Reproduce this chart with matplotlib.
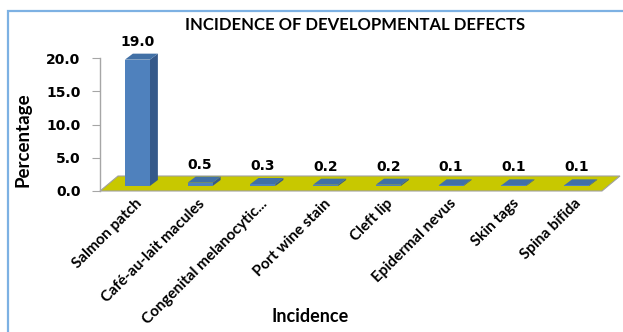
"""Incidence of developmental defects - Excel-style 3D column chart."""
import matplotlib
matplotlib.use('Agg')
import matplotlib.pyplot as plt
from matplotlib.patches import Polygon, Rectangle

categories = ['Salmon patch', 'Café-au-lait macules', 'Congenital melanocytic...',
              'Port wine stain', 'Cleft lip', 'Epidermal nevus', 'Skin tags',
              'Spina bifida']
values = [19.0, 0.5, 0.3, 0.2, 0.2, 0.1, 0.1, 0.1]
yticks = [0, 5, 10, 15, 20]

plt.rcParams['font.family'] = ['Lato', 'DejaVu Sans']
plt.rcParams['font.weight'] = 'bold'
NUM_FONT = ['DejaVu Sans']

W, H = 623, 332
fig = plt.figure(figsize=(W / 100, H / 100), dpi=100)

# outer frame (only left + top visible in the crop)
fig.patches.append(Rectangle((8 / W, -0.1), 1.2, (H - 11) / H + 0.1,
                             transform=fig.transFigure, fill=False,
                             edgecolor='#7DB1E3', lw=1.6))

# axes = front plane of the plot area
x0, x1, yb, yt = 100, 602, 191, 58
ax = fig.add_axes([x0 / W, (H - yb) / H, (x1 - x0) / W, (yb - yt) / H])
n = len(categories)
ax.set_xlim(0, n)
ax.set_ylim(0, 20)
ax.patch.set_visible(False)
for s in ['top', 'right', 'bottom']:
    ax.spines[s].set_visible(False)
ax.spines['left'].set_color('#A6A6A6')
ax.spines['left'].set_linewidth(1.0)

px_x = (x1 - x0) / n
px_y = (yb - yt) / 20.0
# floor depth and bar depth (pixels -> data)
fdx, fdy = 18 / px_x, 15 / px_y
bdx, bdy = 8 / px_x, 6 / px_y
bw = 25 / px_x
ox, oy = fdx / 3, fdy / 3   # bars sit a third of the way into the floor

floor = Polygon([(0, 0), (n, 0), (n + fdx, fdy), (fdx, fdy)], closed=True,
                facecolor='#C8C800', edgecolor='#A0A0A0', lw=0.8,
                clip_on=False, zorder=1)
ax.add_patch(floor)

front_c, top_c, side_c = '#4F81BD', '#4170A6', '#35598A'
for i, v in enumerate(values):
    cx = i + 0.5 + ox
    l, r = cx - bw / 2, cx + bw / 2
    b, t = oy, oy + v
    ax.add_patch(Polygon([(r, b), (r + bdx, b + bdy), (r + bdx, t + bdy), (r, t)],
                         closed=True, facecolor=side_c, edgecolor='none',
                         clip_on=False, zorder=3))
    ax.add_patch(Polygon([(l, t), (r, t), (r + bdx, t + bdy), (l + bdx, t + bdy)],
                         closed=True, facecolor=top_c, edgecolor='none',
                         clip_on=False, zorder=3))
    ax.add_patch(Polygon([(l, b), (r, b), (r, t), (l, t)], closed=True,
                         facecolor=front_c, edgecolor='none',
                         clip_on=False, zorder=3))
    ax.annotate(f'{v:.1f}', (cx, t + bdy), xytext=(0, 3.5),
                textcoords='offset points', ha='center', va='bottom',
                fontsize=10, fontweight='bold', family=NUM_FONT,
                annotation_clip=False)

ax.set_yticks(yticks)
ax.set_yticklabels([f'{t:.1f}' for t in yticks], fontsize=10,
                   fontweight='bold', family=NUM_FONT)
ax.tick_params(axis='y', direction='out', length=6, color='#A6A6A6', pad=8)

ax.set_xticks([i + 0.5 + 0.06 for i in range(n)])
ax.set_xticklabels(categories, rotation=45, ha='right', va='top',
                   rotation_mode='anchor', fontsize=11, fontweight='bold')
ax.tick_params(axis='x', length=0, pad=4)

fig.text(23 / W, 1 - 140 / H, 'Percentage', ha='center', va='center',
         rotation=90, fontsize=13.5, fontweight='bold')
fig.text(310 / W, 1 - 317 / H, 'Incidence', ha='center', va='center',
         fontsize=13, fontweight='bold')
fig.text(355 / W, 1 - 25 / H, 'INCIDENCE OF DEVELOPMENTAL DEFECTS',
         ha='center', va='center', fontsize=12, fontweight='bold')

fig.savefig('out.png', dpi=100)
